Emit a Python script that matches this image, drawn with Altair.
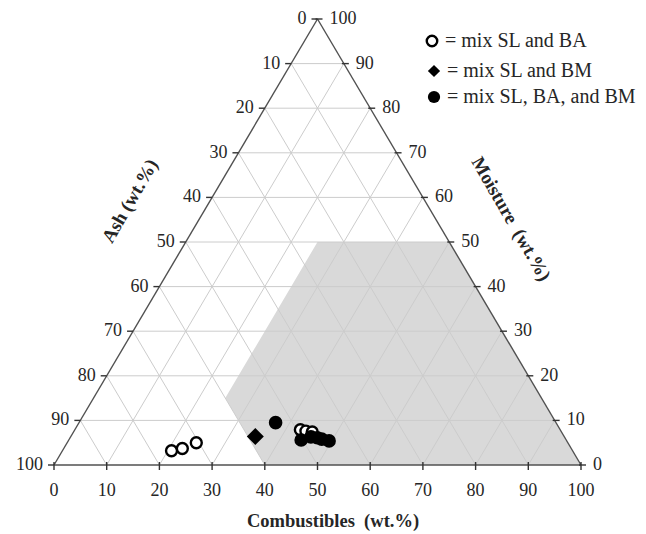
import altair as alt
import pandas as pd

# ---------------- data ----------------
ticks = [0, 10, 20, 30, 40, 50, 60, 70, 80, 90, 100]

# mix SL and BA (open circles)
sl_ba_comb = [20.7, 22.5, 24.5, 42.8, 44.0, 45.3]
sl_ba_moist = [3.2, 3.7, 5.0, 7.9, 7.6, 7.4]
# mix SL and BM (diamond)
sl_bm_comb = [35.0]
sl_bm_moist = [6.4]
# mix SL, BA and BM (filled circles)
sl_ba_bm_comb = [37.3, 44.1, 45.6, 46.9, 47.9, 49.5]
sl_ba_bm_moist = [9.5, 5.6, 6.3, 6.1, 5.8, 5.4]

# Tanner combustible region limits
moist_max = 50
ash_max = 60
comb_min = 25

legend_labels = ["= mix SL and BA", "= mix SL and BM", "= mix SL, BA, and BM"]
axis_titles = ["Combustibles\u00a0 (wt.%)", "Ash (wt.%)", "Moisture\u00a0 (wt.%)"]

# ---------------- geometry helpers ----------------
W, H = 527, 446
FONT = "Liberation Serif"
EDGE = "#505050"
GRID = "#cccccc"
TXT = "#262626"


def tern(c, m):
    return c + m / 2.0, m


xs = alt.Scale(domain=[0, 100], nice=False, zero=False)
ys = alt.Scale(domain=[0, 100], nice=False, zero=False)


def X(f="x"):
    return alt.X(f"{f}:Q", scale=xs, axis=None)


def Y(f="y"):
    return alt.Y(f"{f}:Q", scale=ys, axis=None)


# region (area between lower and upper boundary)
def upper(x):
    return min(2 * (x - comb_min), moist_max, 2 * (100 - x))


def lower(x):
    return max(0.0, 2 * ((100 - ash_max) - x))


verts = [tern(comb_min, 100 - ash_max - comb_min), tern(100 - ash_max, 0),
         tern(comb_min, moist_max), tern(100 - moist_max, moist_max), tern(100, 0)]
vx = sorted(v[0] for v in verts)
region = pd.DataFrame({"x": vx, "y": [upper(v) for v in vx], "y2": [lower(v) for v in vx]})

area = alt.Chart(region).mark_area(color="#d9d9d9", opacity=1, interpolate="linear").encode(
    x=X(), y=Y(), y2="y2:Q")

# grid lines
g = []
for t in ticks[1:-1]:
    x1, y1 = tern(0, t); x2, y2 = tern(100 - t, t)
    g.append(dict(x=x1, y=y1, x2=x2, y2=y2))
    x1, y1 = tern(t, 0); x2, y2 = tern(t, 100 - t)
    g.append(dict(x=x1, y=y1, x2=x2, y2=y2))
    x1, y1 = tern(100 - t, 0); x2, y2 = tern(0, 100 - t)
    g.append(dict(x=x1, y=y1, x2=x2, y2=y2))
grid = alt.Chart(pd.DataFrame(g)).mark_rule(color=GRID, strokeWidth=1).encode(
    x=X(), y=Y(), x2="x2:Q", y2="y2:Q")

# triangle edges
e = [dict(x=0, y=0, x2=100, y2=0), dict(x=0, y=0, x2=50, y2=100), dict(x=100, y=0, x2=50, y2=100)]
edges = alt.Chart(pd.DataFrame(e)).mark_rule(color=EDGE, strokeWidth=1.4).encode(
    x=X(), y=Y(), x2="x2:Q", y2="y2:Q")

# tick positions
bottom = pd.DataFrame({"x": [float(t) for t in ticks], "y": [0.0] * len(ticks), "lab": [str(t) for t in ticks]})
left = pd.DataFrame({"x": [(100 - t) / 2 for t in ticks], "y": [100.0 - t for t in ticks],
                     "lab": [str(t) for t in ticks]})
right = pd.DataFrame({"x": [100 - t / 2 for t in ticks], "y": [float(t) for t in ticks],
                      "lab": [str(t) for t in ticks]})

tb = alt.Chart(bottom).mark_rule(color="#333", strokeWidth=1.4, yOffset=-3, y2Offset=5).encode(
    x=X(), y=Y(), x2="x:Q", y2="y:Q")
tl = alt.Chart(left).mark_rule(color="#333", strokeWidth=1.4, xOffset=-6, x2Offset=0).encode(
    x=X(), y=Y(), x2="x:Q", y2="y:Q")
tr = alt.Chart(right).mark_rule(color="#333", strokeWidth=1.4, xOffset=-2, x2Offset=5).encode(
    x=X(), y=Y(), x2="x:Q", y2="y:Q")

lb = alt.Chart(bottom).mark_text(font=FONT, fontSize=18, color=TXT, dy=26, baseline="middle",
                                 align="center").encode(x=X(), y=Y(), text="lab:N")
ll = alt.Chart(left).mark_text(font=FONT, fontSize=18, color=TXT, dx=-11, baseline="middle",
                               align="right").encode(x=X(), y=Y(), text="lab:N")
lr = alt.Chart(right).mark_text(font=FONT, fontSize=18, color=TXT, dx=12, baseline="middle",
                                align="left").encode(x=X(), y=Y(), text="lab:N")


# data points
def pts(c, m):
    xx, yy = zip(*[tern(ci, mi) for ci, mi in zip(c, m)])
    return pd.DataFrame({"Combustibles": c, "Moisture": m,
                         "Ash": [round(100 - ci - mi, 1) for ci, mi in zip(c, m)],
                         "x": xx, "y": yy})


p_open = alt.Chart(pts(sl_ba_comb, sl_ba_moist)).mark_point(
    shape="circle", filled=True, fill="white", stroke="black", strokeWidth=2.4, size=120, opacity=1
).encode(x=X(), y=Y())
p_dia = alt.Chart(pts(sl_bm_comb, sl_bm_moist)).mark_point(
    shape="diamond", filled=True, color="black", size=290, opacity=1).encode(x=X(), y=Y())
p_fill = alt.Chart(pts(sl_ba_bm_comb, sl_ba_bm_moist)).mark_point(
    shape="circle", filled=True, color="black", size=185, opacity=1).encode(x=X(), y=Y())

# legend (custom, top right)
leg_y = [22, 52, 78]
leg = []
leg.append(alt.Chart(pd.DataFrame({"k": [0]})).mark_point(
    shape="circle", filled=True, fill="white", stroke="black", strokeWidth=2.4, size=110, opacity=1
).encode(x=alt.value(378), y=alt.value(leg_y[0])))
leg.append(alt.Chart(pd.DataFrame({"k": [0]})).mark_point(
    shape="diamond", filled=True, color="black", size=150, opacity=1
).encode(x=alt.value(380), y=alt.value(leg_y[1])))
leg.append(alt.Chart(pd.DataFrame({"k": [0]})).mark_point(
    shape="circle", filled=True, color="black", size=150, opacity=1
).encode(x=alt.value(380), y=alt.value(leg_y[2])))
for i, lab in enumerate(legend_labels):
    leg.append(alt.Chart(pd.DataFrame({"t": [lab]})).mark_text(
        font=FONT, fontSize=20, color=TXT, align="left", baseline="middle"
    ).encode(x=alt.value(391 if i == 0 else 393), y=alt.value(leg_y[i]), text="t:N"))

# axis titles
titles = [
    alt.Chart(pd.DataFrame({"t": [axis_titles[0]]})).mark_text(
        font=FONT, fontSize=18.5, fontWeight="bold", color=TXT, align="center", baseline="middle"
    ).encode(x=alt.value(279), y=alt.value(502), text="t:N"),
    alt.Chart(pd.DataFrame({"t": [axis_titles[1]]})).mark_text(
        font=FONT, fontSize=19, fontWeight="bold", color=TXT, align="center", baseline="middle",
        angle=300
    ).encode(x=alt.value(76), y=alt.value(182), text="t:N"),
    alt.Chart(pd.DataFrame({"t": [axis_titles[2]]})).mark_text(
        font=FONT, fontSize=19, fontWeight="bold", color=TXT, align="center", baseline="middle",
        angle=60
    ).encode(x=alt.value(457), y=alt.value(200), text="t:N"),
]

chart = alt.layer(area, grid, edges, tb, tl, tr, lb, ll, lr, p_open, p_dia, p_fill, *leg, *titles).properties(
    width=W, height=H,
    autosize=alt.AutoSizeParams(type="none"),
    padding={"left": 54, "top": 19, "right": 65, "bottom": 69},
    background="white",
).configure_view(stroke=None)

chart.save("out.html", embed_options={"renderer": "svg", "actions": False})
